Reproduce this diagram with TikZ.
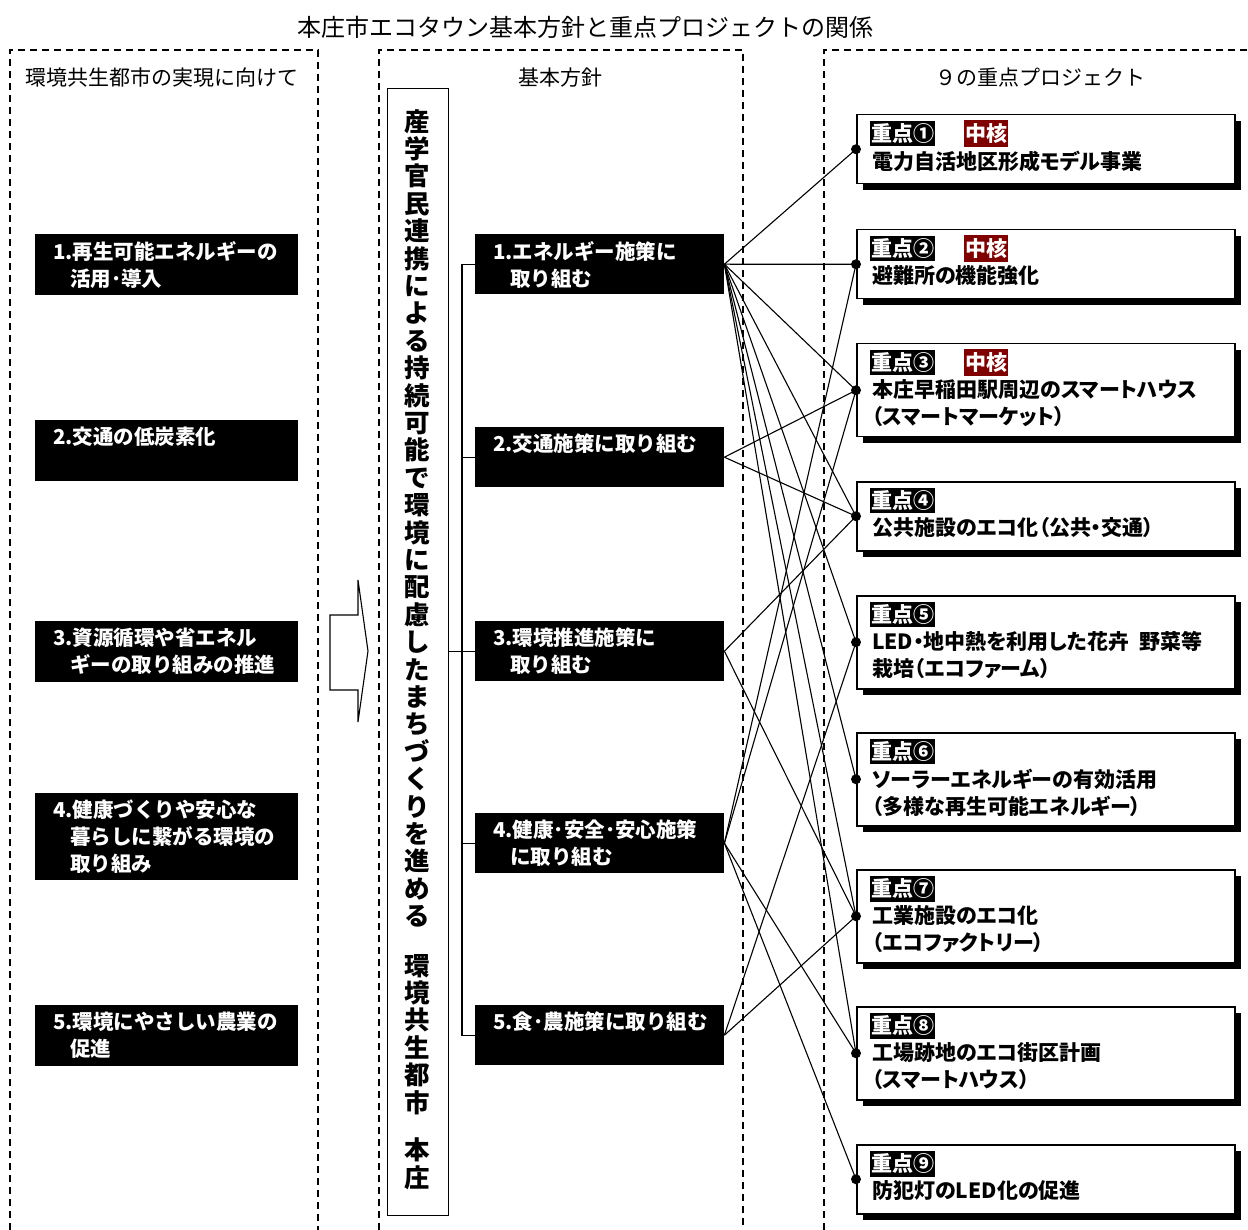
\documentclass[tikz,border=0pt]{standalone}
\usepackage{fontspec}
\setmainfont{Noto Sans CJK JP}
\newfontfamily\propfont{Noto Sans CJK JP}[RawFeature=+palt]
\usepackage{tikz}
\usetikzlibrary{positioning}
\usetikzlibrary{shadows}
\definecolor{corered}{RGB}{128,0,0}

\begin{document}
\begin{tikzpicture}[x=1pt, y=-1pt,
                          column/.style={dash pattern=on 7pt off 5pt, line width=1.3pt},
                          headnode/.style={font=\fontsize{21}{25}\selectfont, inner sep=0pt},
                          leftbox/.style={rectangle, fill=black, minimum width=263pt, minimum height=61pt, anchor=north west, inner sep=0pt},
                          midbox/.style={rectangle, fill=black, minimum width=249pt, minimum height=60pt, anchor=north west, inner sep=0pt},
                          boxtext/.style={text=white, font=\bfseries\fontsize{20.5}{27}\selectfont, align=left, anchor=north west, inner sep=0pt},
                          projbox/.style={rectangle, draw, line width=1.5pt, fill=white, minimum width=378pt, minimum height=69pt, anchor=north west, inner sep=0pt,
                                          drop shadow={shadow xshift=6pt, shadow yshift=-6pt, fill=black, opacity=1}},
                          tallbox/.style={projbox, minimum height=93pt},
                          numtag/.style={fill=black, text=white, font=\bfseries\fontsize{21}{25}\selectfont, inner xsep=1pt, inner ysep=3pt, anchor=west},
                          coretag/.style={numtag, fill=corered},
                          projtext/.style={font=\propfont\bfseries\fontsize{21}{27}\selectfont, align=left, anchor=north west, inner sep=0pt},
                          dot/.style={circle, fill=black, inner sep=0pt, minimum size=10pt},
                          link/.style={line width=1.1pt},
                      ]
                      \useasboundingbox (0,0) rectangle (1248,1230);

                      % Columns
                      \draw[column] (10,1230) -- (10,50) -- (318,50) -- (318,1230);
                      \draw[column] (379,1230) -- (379,50) -- (743,50) -- (743,1230);
                      \draw[column] (824,1230) -- (824,50) -- (1248,50);

                      \node[font=\fontsize{24}{28}\selectfont, inner sep=0pt] (title) at (585,27) {本庄市エコタウン基本方針と重点プロジェクトの関係};
                      \node[headnode] (head_goal)    at (162,78)  {環境共生都市の実現に向けて};
                      \node[headnode] (head_policy)  at (560,78)  {基本方針};
                      \node[headnode] (head_proj)    at (1040,78) {９の重点プロジェクト};

                      % Left column
                      \node[leftbox] (goal_1) at (35,234)  {};
                      \node[leftbox] (goal_2) at (35,420)  {};
                      \node[leftbox] (goal_3) at (35,621)  {};
                      \node[leftbox, minimum height=87pt] (goal_4) at (35,793) {};
                      \node[leftbox] (goal_5) at (35,1005) {};
                      \node[boxtext] at ([shift={(18,7)}]goal_1.north west) {1.再生可能エネルギーの\\\hspace*{17pt}活用･導入};
                      \node[boxtext] at ([shift={(18,7)}]goal_2.north west) {2.交通の低炭素化};
                      \node[boxtext] at ([shift={(18,7)}]goal_3.north west) {3.資源循環や省エネル\\\hspace*{17pt}ギーの取り組みの推進};
                      \node[boxtext] at ([shift={(18,7)}]goal_4.north west) {4.健康づくりや安心な\\\hspace*{17pt}暮らしに繋がる環境の\\\hspace*{17pt}取り組み};
                      \node[boxtext] at ([shift={(18,7)}]goal_5.north west) {5.環境にやさしい農業の\\\hspace*{17pt}促進};

                      \draw[line width=1.1pt, fill=white] (330,615) -- (358,615) -- (358,580) -- (368,651) -- (358,722) -- (358,690) -- (330,690) -- cycle;

                      % Vertical box
                      \node[rectangle, draw, line width=1.3pt, minimum width=61pt, minimum height=1127pt, anchor=north west, inner sep=0pt] (vision) at (387,88) {};
                      \node[font=\bfseries\fontsize{25.5}{27.4}\selectfont, align=center, anchor=north, inner sep=0pt] (vision_text) at (417.5,109)
                          {産\\学\\官\\民\\連\\携\\に\\よ\\る\\持\\続\\可\\能\\で\\環\\境\\に\\配\\慮\\し\\た\\ま\\ち\\づ\\く\\り\\を\\進\\め\\る\\[22pt]環\\境\\共\\生\\都\\市\\[20.5pt]本\\庄};

                      % Policies
                      \node[midbox] (policy_1) at (475,234)  {};
                      \node[midbox] (policy_2) at (475,427)  {};
                      \node[midbox] (policy_3) at (475,621)  {};
                      \node[midbox] (policy_4) at (475,813)  {};
                      \node[midbox] (policy_5) at (475,1005) {};
                      \node[boxtext] at ([shift={(18,7)}]policy_1.north west) {1.エネルギー施策に\\\hspace*{17pt}取り組む};
                      \node[boxtext] at ([shift={(18,7)}]policy_2.north west) {2.交通施策に取り組む};
                      \node[boxtext] at ([shift={(18,7)}]policy_3.north west) {3.環境推進施策に\\\hspace*{17pt}取り組む};
                      \node[boxtext] at ([shift={(18,7)}]policy_4.north west) {4.健康･安全･安心施策\\\hspace*{17pt}に取り組む};
                      \node[boxtext] at ([shift={(18,7)}]policy_5.north west) {5.食･農施策に取り組む};

                      \draw[line width=1.3pt] (policy_1.west) -- ++(-13,0) |- (policy_5.west);
                      \draw[line width=1.3pt] (policy_2.west) -- ++(-13,0);
                      \draw[line width=1.3pt] (policy_4.west) -- ++(-13,0);
                      \draw[line width=1.3pt] (vision.east |- policy_3.west) -- (policy_3.west);

                      % Projects
                      \node[projbox] (proj_1) at (856,114)  {};
                      \node[projbox] (proj_2) at (856,229)  {};
                      \node[tallbox] (proj_3) at (856,343)  {};
                      \node[projbox] (proj_4) at (856,481)  {};
                      \node[tallbox] (proj_5) at (856,595)  {};
                      \node[tallbox] (proj_6) at (856,732)  {};
                      \node[tallbox] (proj_7) at (856,869)  {};
                      \node[tallbox] (proj_8) at (856,1006) {};
                      \node[projbox] (proj_9) at (856,1144) {};

                      \node[numtag]  at ([shift={(14,19.5)}]proj_1.north west)  {重点①};
                      \node[coretag] at ([shift={(108,19.5)}]proj_1.north west) {中核};
                      \node[projtext] at ([shift={(16,36.5)}]proj_1.north west) {電力自活地区形成モデル事業};
                      \node[numtag]  at ([shift={(14,19.5)}]proj_2.north west)  {重点②};
                      \node[coretag] at ([shift={(108,19.5)}]proj_2.north west) {中核};
                      \node[projtext] at ([shift={(16,36.5)}]proj_2.north west) {避難所の機能強化};
                      \node[numtag]  at ([shift={(14,19.5)}]proj_3.north west)  {重点③};
                      \node[coretag] at ([shift={(108,19.5)}]proj_3.north west) {中核};
                      \node[projtext] at ([shift={(16,36.5)}]proj_3.north west) {本庄早稲田駅周辺のスマートハウス\\（スマートマーケット）};
                      \node[numtag]  at ([shift={(14,19.5)}]proj_4.north west)  {重点④};
                      \node[projtext] at ([shift={(16,36.5)}]proj_4.north west) {公共施設のエコ化（公共・交通）};
                      \node[numtag]  at ([shift={(14,19.5)}]proj_5.north west)  {重点⑤};
                      \node[projtext] at ([shift={(16,36.5)}]proj_5.north west) {LED・地中熱を利用した花卉\ \ 野菜等\\栽培（エコファーム）};
                      \node[numtag]  at ([shift={(14,19.5)}]proj_6.north west)  {重点⑥};
                      \node[projtext] at ([shift={(16,36.5)}]proj_6.north west) {ソーラーエネルギーの有効活用\\（多様な再生可能エネルギー）};
                      \node[numtag]  at ([shift={(14,19.5)}]proj_7.north west)  {重点⑦};
                      \node[projtext] at ([shift={(16,36.5)}]proj_7.north west) {工業施設のエコ化\\（エコファクトリー）};
                      \node[numtag]  at ([shift={(14,19.5)}]proj_8.north west)  {重点⑧};
                      \node[projtext] at ([shift={(16,36.5)}]proj_8.north west) {工場跡地のエコ街区計画\\（スマートハウス）};
                      \node[numtag]  at ([shift={(14,19.5)}]proj_9.north west)  {重点⑨};
                      \node[projtext] at ([shift={(16,36.5)}]proj_9.north west) {防犯灯のLED化の促進};

                      \node[dot] (dot_1) at (proj_1.west) {};
                      \node[dot] (dot_2) at (proj_2.west) {};
                      \node[dot] (dot_3) at (proj_3.west) {};
                      \node[dot] (dot_4) at (proj_4.west) {};
                      \node[dot] (dot_5) at (proj_5.west) {};
                      \node[dot] (dot_6) at (proj_6.west) {};
                      \node[dot] (dot_7) at (proj_7.west) {};
                      \node[dot] (dot_8) at (proj_8.west) {};
                      \node[dot] (dot_9) at (proj_9.west) {};

                      %Lines
                      \draw[link] (policy_1.east) -- (dot_1.center);
                      \draw[link] (policy_1.east) -- (dot_2.center);
                      \draw[link] (policy_1.east) -- (dot_3.center);
                      \draw[link] (policy_1.east) -- (dot_4.center);
                      \draw[link] (policy_1.east) -- (dot_5.center);
                      \draw[link] (policy_1.east) -- (dot_6.center);
                      \draw[link] (policy_1.east) -- (dot_7.center);
                      \draw[link] (policy_1.east) -- (dot_8.center);
                      \draw[link] (policy_2.east) -- (dot_3.center);
                      \draw[link] (policy_2.east) -- (dot_4.center);
                      \draw[link] (policy_3.east) -- (dot_4.center);
                      \draw[link] (policy_3.east) -- (dot_7.center);
                      \draw[link] (policy_4.east) -- (dot_2.center);
                      \draw[link] (policy_4.east) -- (dot_3.center);
                      \draw[link] (policy_4.east) -- (dot_8.center);
                      \draw[link] (policy_4.east) -- (dot_9.center);
                      \draw[link] (policy_5.east) -- (dot_5.center);
                      \draw[link] (policy_5.east) -- (dot_7.center);
                  \end{tikzpicture}
\end{document}
